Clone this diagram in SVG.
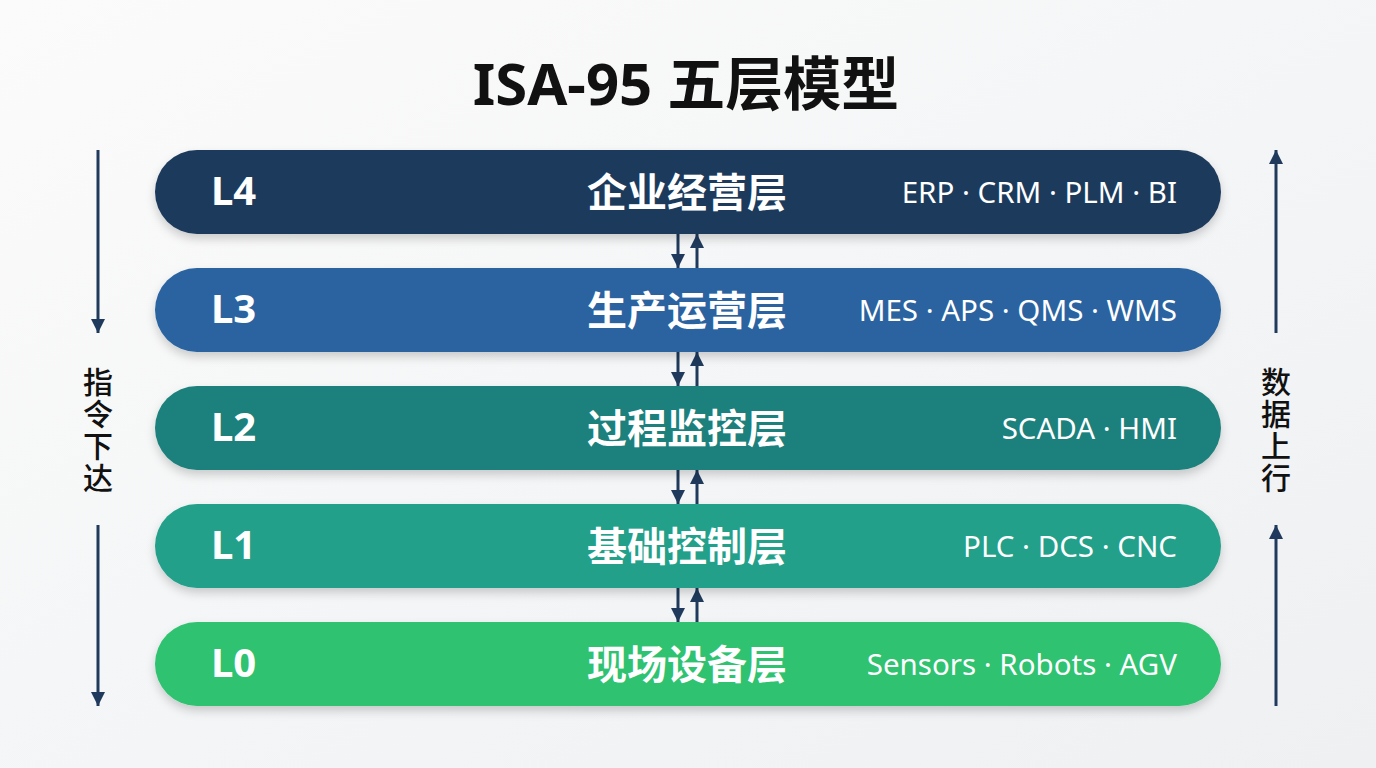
<svg xmlns="http://www.w3.org/2000/svg" width="1376" height="768" viewBox="0 0 1376 768">
<defs>
<linearGradient id="bg" x1="0" y1="0" x2="1" y2="1">
<stop offset="0" stop-color="#fbfbfb"/>
<stop offset="1" stop-color="#eef0f2"/>
</linearGradient>
<filter id="sh" x="-5%" y="-20%" width="110%" height="150%">
<feDropShadow dx="0" dy="5" stdDeviation="5" flood-color="#000" flood-opacity="0.18"/>
</filter>
<marker id="ahs" viewBox="0 0 10 10" refX="10" refY="5" markerWidth="14" markerHeight="14" markerUnits="userSpaceOnUse" orient="auto">
<path d="M0,0 L10,5 L0,10 Z" fill="#1f3a5c"/>
</marker>
</defs>
<style>
.bar{filter:url(#sh)}
.lv{font-family:"Noto Sans","Noto Sans CJK SC",sans-serif;font-weight:700;font-size:40px;fill:#fff}
.nm{font-family:"Noto Sans CJK SC","Noto Sans",sans-serif;font-weight:700;font-size:40px;fill:#fff;text-anchor:middle}
.sy{font-family:"Noto Sans","Noto Sans CJK SC",sans-serif;font-size:29.5px;fill:#fff;text-anchor:end}
.side{font-family:"Noto Sans CJK SC",sans-serif;font-size:30px;font-weight:500;fill:#111;text-anchor:middle;writing-mode:vertical-rl;letter-spacing:2px}
.ln{stroke:#1f3a5c;stroke-width:3;fill:none}
</style>
<rect width="1376" height="768" fill="url(#bg)"/>
<text x="686" y="105" font-family="'Noto Sans','Noto Sans CJK SC',sans-serif" font-weight="700" font-size="58" fill="#111" text-anchor="middle">ISA-95 五层模型</text>

<g id="connectors">
<line class="ln" x1="98" y1="150" x2="98" y2="333" marker-end="url(#ahs)"/>
<line class="ln" x1="98" y1="525" x2="98" y2="706" marker-end="url(#ahs)"/>
<line class="ln" x1="1276" y1="333" x2="1276" y2="150" marker-end="url(#ahs)"/>
<line class="ln" x1="1276" y1="706" x2="1276" y2="525" marker-end="url(#ahs)"/>
<g id="link-43">
<line class="ln" x1="678" y1="234" x2="678" y2="268" marker-end="url(#ahs)"/>
<line class="ln" x1="697" y1="268" x2="697" y2="234" marker-end="url(#ahs)"/>
</g>
<g id="link-32">
<line class="ln" x1="678" y1="352" x2="678" y2="386" marker-end="url(#ahs)"/>
<line class="ln" x1="697" y1="386" x2="697" y2="352" marker-end="url(#ahs)"/>
</g>
<g id="link-21">
<line class="ln" x1="678" y1="470" x2="678" y2="504" marker-end="url(#ahs)"/>
<line class="ln" x1="697" y1="504" x2="697" y2="470" marker-end="url(#ahs)"/>
</g>
<g id="link-10">
<line class="ln" x1="678" y1="588" x2="678" y2="622" marker-end="url(#ahs)"/>
<line class="ln" x1="697" y1="622" x2="697" y2="588" marker-end="url(#ahs)"/>
</g>
</g>

<g id="label-down">
<text class="side" x="98" y="431">指令下达</text>
</g>
<g id="label-up">
<text class="side" x="1276" y="431">数据上行</text>
</g>

<g id="L4">
<rect class="bar" x="155" y="150" width="1066" height="84" rx="42" fill="#1f3a5c"/>
<text class="lv" x="211" y="205">L4</text>
<text class="nm" x="687" y="207">企业经营层</text>
<text class="sy" x="1177" y="203">ERP · CRM · PLM · BI</text>
</g>
<g id="L3">
<rect class="bar" x="155" y="268" width="1066" height="84" rx="42" fill="#2964a0"/>
<text class="lv" x="211" y="323">L3</text>
<text class="nm" x="687" y="325">生产运营层</text>
<text class="sy" x="1177" y="321">MES · APS · QMS · WMS</text>
</g>
<g id="L2">
<rect class="bar" x="155" y="386" width="1066" height="84" rx="42" fill="#1e807c"/>
<text class="lv" x="211" y="441">L2</text>
<text class="nm" x="687" y="443">过程监控层</text>
<text class="sy" x="1177" y="439">SCADA · HMI</text>
</g>
<g id="L1">
<rect class="bar" x="155" y="504" width="1066" height="84" rx="42" fill="#22a08a"/>
<text class="lv" x="211" y="559">L1</text>
<text class="nm" x="687" y="561">基础控制层</text>
<text class="sy" x="1177" y="557">PLC · DCS · CNC</text>
</g>
<g id="L0">
<rect class="bar" x="155" y="622" width="1066" height="84" rx="42" fill="#2ec271"/>
<text class="lv" x="211" y="677">L0</text>
<text class="nm" x="687" y="679">现场设备层</text>
<text class="sy" x="1177" y="675">Sensors · Robots · AGV</text>
</g>
</svg>
